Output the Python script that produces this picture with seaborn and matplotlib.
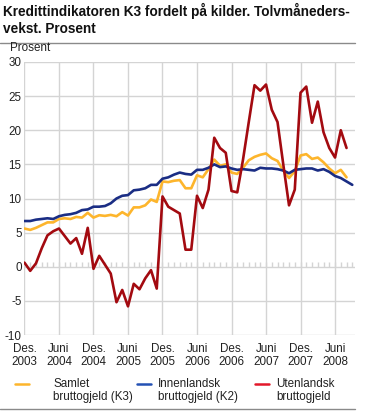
import matplotlib
matplotlib.use('Agg')
import matplotlib.pyplot as plt
import seaborn as sns
import numpy as np
import pandas as pd
from matplotlib.lines import Line2D

# data: twelve-month growth in percent, Dec 2003 onwards
samlet_k3 = [5.6, 5.4, 5.7, 6.1, 6.5, 6.5, 7.0, 7.1, 7.0, 7.3,
             7.2, 7.9, 7.2, 7.55, 7.45, 7.6, 7.4, 8.0, 7.5, 8.7,
             8.7, 9.0, 9.85, 9.5, 12.5, 12.4, 12.6, 12.7, 11.5, 11.5,
             13.4, 13.1, 14.3, 15.7, 14.8, 15.0, 13.8, 13.6, 14.5, 15.6,
             16.1, 16.4, 16.6, 15.9, 15.5, 14.1, 13.0, 14.0, 16.3, 16.5,
             15.8, 16.0, 15.3, 14.4, 13.7, 14.2, 13.1]
innenlandsk_k2 = [6.7, 6.7, 6.9, 7.0, 7.1, 7.0, 7.4, 7.6, 7.7, 7.9,
                  8.3, 8.4, 8.8, 8.8, 8.9, 9.3, 10.0, 10.4, 10.5, 11.2,
                  11.3, 11.5, 12.0, 12.0, 12.9, 13.1, 13.5, 13.8, 13.6, 13.5,
                  14.2, 14.2, 14.5, 15.0, 14.6, 14.7, 14.4, 14.2, 14.3, 14.2,
                  14.1, 14.5, 14.4, 14.4, 14.3, 14.1, 13.7, 14.2, 14.3, 14.4,
                  14.4, 14.1, 14.3, 13.9, 13.3, 13.0, 12.5, 12.0]
utenlandsk = [0.6, -0.6, 0.5, 2.7, 4.6, 5.2, 5.6, 4.5, 3.4, 4.2,
              1.9, 5.7, -0.3, 1.6, 0.3, -1.0, -5.2, -3.4, -5.8, -2.5,
              -3.3, -1.7, -0.5, -3.2, 10.3, 8.8, 8.3, 7.8, 2.5, 2.5,
              10.4, 8.6, 11.3, 18.9, 17.4, 16.7, 11.1, 10.9, 15.7, 21.2,
              26.6, 25.8, 26.7, 23.0, 21.2, 15.0, 9.0, 11.3, 25.5, 26.4,
              21.1, 24.2, 19.7, 17.4, 16.0, 20.0, 17.4]

series_names = ['Samlet\nbruttogjeld (K3)', 'Innenlandsk\nbruttogjeld (K2)', 'Utenlandsk\nbruttogjeld']
tick_labels = ['Des.\n2003', 'Juni\n2004', 'Des.\n2004', 'Juni\n2005', 'Des.\n2005',
               'Juni\n2006', 'Des.\n2006', 'Juni\n2007', 'Des.\n2007', 'Juni\n2008']
y_ticks = [-10, -5, 0, 5, 10, 15, 20, 25, 30]

line_colors = ['#fdb52c', '#1a2d84', '#a30a10']
legend_colors = ['#fdb52c', '#2451b4', '#e3182a']

frames = []
for name, vals in zip(series_names, [samlet_k3, innenlandsk_k2, utenlandsk]):
    frames.append(pd.DataFrame({'maaned': np.arange(len(vals)), 'serie': name, 'verdi': vals}))
df = pd.concat(frames, ignore_index=True)

sns.set_style('white')
plt.rcParams['font.family'] = ['Liberation Sans', 'DejaVu Sans']

W, H = 369, 411
fig = plt.figure(figsize=(W / 100, H / 100), dpi=100)
ax = fig.add_axes([24.3 / W, 1 - 335 / H, (354.7 - 24.3) / W, (335 - 62) / H])

grid_c = '#d4d4d4'
ax.set_axisbelow(True)
n_months = len(innenlandsk_k2)
ax.set_xlim(-0.03, 57.42)
ax.set_ylim(-10, 30)
ax.set_yticks(y_ticks)
ax.set_yticklabels([str(v) for v in y_ticks])
ax.set_xticks(np.arange(0, 6 * len(tick_labels), 6))
ax.set_xticklabels(tick_labels, linespacing=1.05)
ax.grid(True, color=grid_c, lw=1)
for s in ax.spines.values():
    s.set_visible(False)
ax.tick_params(length=0, labelsize=8.4, colors='#222222')
ax.tick_params(axis='y', pad=2)
ax.tick_params(axis='x', pad=6)

# small month ticks on the zero line
ax.vlines(np.arange(n_months), 0, 0.7, color=grid_c, lw=1)

sns.lineplot(data=df, x='maaned', y='verdi', hue='serie', hue_order=series_names,
             palette=line_colors, linewidth=1.9, legend=False, ax=ax, sort=False)
ax.set_xlabel('')
ax.set_ylabel('')

fig.text(3 / W, 1 - 3 / H, 'Kredittindikatoren K3 fordelt på kilder. Tolvmåneders-\nvekst. Prosent',
         ha='left', va='top', fontsize=9.8, fontweight='bold', linespacing=1.3, color='#111111')
fig.add_artist(Line2D([0, 355 / W], [1 - 43 / H] * 2, color='#8a8a8a', lw=1))
fig.add_artist(Line2D([0, 355 / W], [1 - 409 / H] * 2, color='#8a8a8a', lw=1))
fig.text(10 / W, 1 - 48 / H, 'Prosent', ha='left', va='center', fontsize=8.4, color='#222222')

# legend entries
leg_x = [(15, 53), (137, 158), (255, 276)]
for (lx, tx), name, c in zip(leg_x, series_names, legend_colors):
    fig.add_artist(Line2D([lx / W, (lx + 14) / W], [1 - 384 / H] * 2, color=c, lw=1.8))
    fig.text(tx / W, 1 - 378 / H, name, ha='left', va='top', fontsize=8.4,
             linespacing=1.15, color='#222222')

fig.savefig('out.png', dpi=100)
